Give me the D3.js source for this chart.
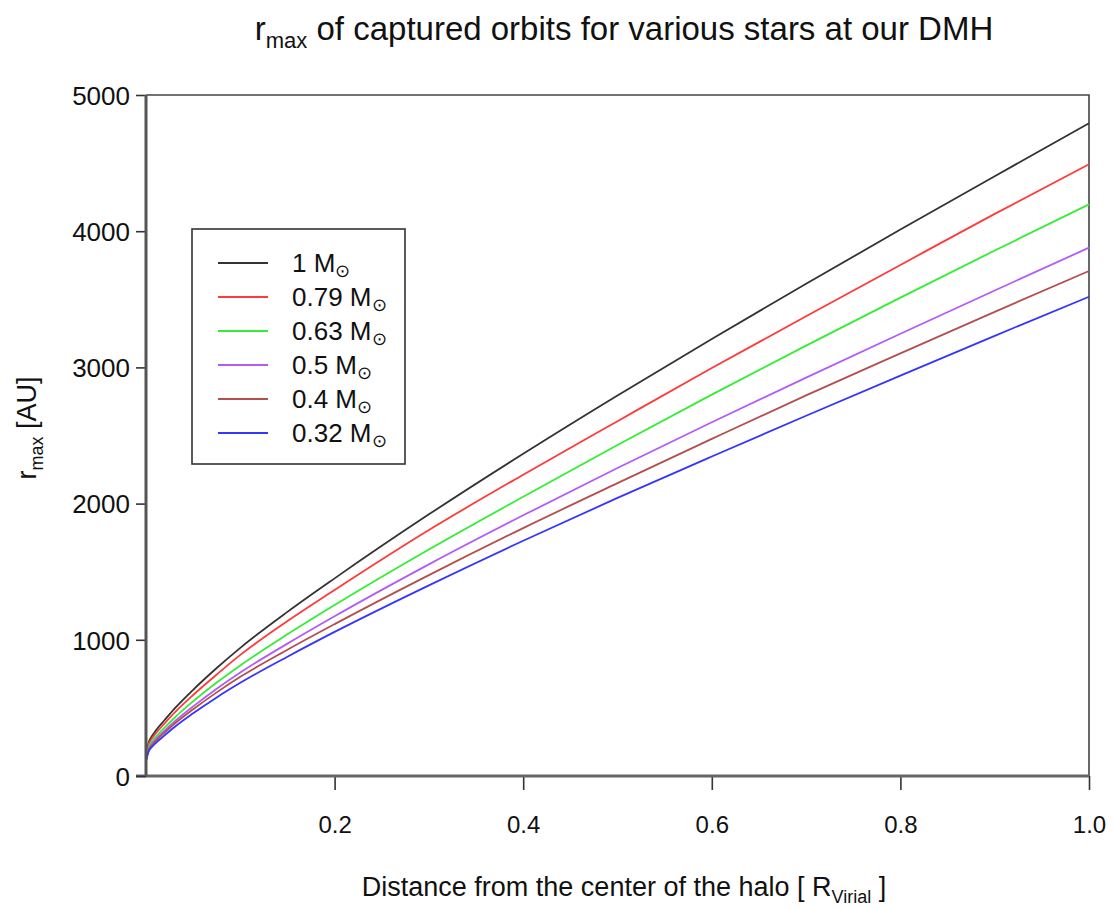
<!DOCTYPE html>
<html>
<head>
<meta charset="utf-8">
<script src="https://cdn.jsdelivr.net/npm/d3@7"></script>
<style>
  body { margin: 0; background: #fff; }
  svg text { font-family: "Liberation Sans", Arial, sans-serif; fill: #111; }
</style>
</head>
<body>
<div id="chart"></div>
<script>
// distance from halo centre, in R_virial
var xs = [0, 0.003, 0.006, 0.01, 0.02, 0.03, 0.05, 0.075, 0.1, 0.15, 0.2, 0.3, 0.4, 0.5, 0.6, 0.7, 0.8, 0.9, 1.0];

// r_max [AU] per star mass
var m100 = [150, 250, 290, 330, 413, 493, 633, 793, 941, 1205, 1451, 1921, 2366, 2794, 3209, 3614, 4012, 4404, 4792];
var m079 = [141, 235, 273, 310, 388, 463, 595, 745, 889, 1138, 1366, 1806, 2212, 2605, 2995, 3375, 3752, 4127, 4491];
var m063 = [130, 216, 251, 285, 357, 426, 548, 686, 812, 1040, 1255, 1663, 2050, 2430, 2800, 3160, 3512, 3858, 4197];
var m050 = [121, 202, 234, 267, 334, 398, 511, 641, 760, 972, 1173, 1554, 1914, 2261, 2597, 2925, 3247, 3565, 3879];
var m040 = [116, 194, 224, 255, 320, 382, 490, 614, 728, 927, 1115, 1475, 1820, 2150, 2475, 2795, 3103, 3408, 3708];
var m032 = [109, 182, 211, 240, 300, 358, 460, 577, 684, 876, 1058, 1400, 1727, 2042, 2346, 2645, 2940, 3232, 3519];

var labels = ["1", "0.79", "0.63", "0.5", "0.4", "0.32"];
var colors = ["#333333", "#ff3a3a", "#33ee33", "#b35cf5", "#b34f4f", "#3535ff"];
var series = [m100, m079, m063, m050, m040, m032];

var xTicks = [0.2, 0.4, 0.6, 0.8, 1.0];
var yTicks = [0, 1000, 2000, 3000, 4000, 5000];

var W = 1117, H = 909;
var margin = {top: 95, right: 28, bottom: 133, left: 146};
var width = W - margin.left - margin.right,
    height = H - margin.top - margin.bottom;

var svg = d3.select("#chart").append("svg")
    .attr("width", W)
    .attr("height", H);

var x = d3.scaleLinear().domain([0, 1]).range([0, width]);
var y = d3.scaleLinear().domain([0, 5000]).range([height, 0]);

var g = svg.append("g")
    .attr("transform", "translate(" + margin.left + "," + margin.top + ")");

// thin frame on top / right
g.append("path")
    .attr("d", "M0,0H" + width + "V" + height)
    .attr("fill", "none")
    .attr("stroke", "#444")
    .attr("stroke-width", 1.6);

var line = d3.line()
    .curve(d3.curveMonotoneX)
    .x(function(d, i) { return x(xs[i]); })
    .y(function(d) { return y(d); });

series.forEach(function(s, i) {
  g.append("path")
      .datum(s)
      .attr("fill", "none")
      .attr("stroke", colors[i])
      .attr("stroke-width", 1.8)
      .attr("d", line);
});

// axes
var xAxis = g.append("g")
    .attr("transform", "translate(0," + height + ")")
    .call(d3.axisBottom(x).tickValues(xTicks).tickFormat(d3.format(".1f")).tickSize(14).tickPadding(26));
xAxis.select(".domain").remove();
xAxis.append("line")
    .attr("x1", -10).attr("x2", width)
    .attr("stroke", "#666").attr("stroke-width", 3);
xAxis.selectAll(".tick line").attr("stroke", "#333").attr("stroke-width", 1.6);
xAxis.selectAll(".tick text")
    .attr("font-size", 24)
    .attr("fill", "#111");

var yAxis = g.append("g")
    .call(d3.axisLeft(y).tickValues(yTicks).tickFormat(d3.format("d")).tickSize(10).tickPadding(6));
yAxis.select(".domain").remove();
yAxis.append("line")
    .attr("y1", 0).attr("y2", height)
    .attr("stroke", "#555").attr("stroke-width", 3);
yAxis.selectAll(".tick line").attr("stroke", "#333").attr("stroke-width", 1.6);
yAxis.selectAll(".tick text")
    .attr("font-size", 26)
    .attr("fill", "#111")
    .attr("dy", "0.36em");

// titles
var title = svg.append("text")
    .attr("x", 624).attr("y", 40)
    .attr("text-anchor", "middle")
    .attr("font-size", 33);
title.append("tspan").text("r");
title.append("tspan").attr("font-size", 22).attr("dy", 8).text("max");
title.append("tspan").attr("dy", -8).text(" of captured orbits for various stars at our DMH");

var xt = svg.append("text")
    .attr("x", 624).attr("y", 896)
    .attr("text-anchor", "middle")
    .attr("font-size", 27);
xt.append("tspan").text("Distance from the center of the halo [ R");
xt.append("tspan").attr("font-size", 18).attr("dy", 7).text("Virial");
xt.append("tspan").attr("dy", -7).text(" ]");

var yt = svg.append("text")
    .attr("transform", "translate(36,428) rotate(-90)")
    .attr("text-anchor", "middle")
    .attr("font-size", 27);
yt.append("tspan").text("r");
yt.append("tspan").attr("font-size", 18).attr("dy", 7).text("max");
yt.append("tspan").attr("dy", -7).text(" [AU]");

// legend
var leg = svg.append("g").attr("transform", "translate(192,229)");
leg.append("rect")
    .attr("width", 213).attr("height", 235)
    .attr("fill", "#fff")
    .attr("stroke", "#333")
    .attr("stroke-width", 1.6);
labels.forEach(function(lab, i) {
  var yy = 34 + i * 34;
  leg.append("line")
      .attr("x1", 26).attr("x2", 76)
      .attr("y1", yy).attr("y2", yy)
      .attr("stroke", colors[i])
      .attr("stroke-width", 1.8);
  var t = leg.append("text")
      .attr("x", 100).attr("y", yy + 9)
      .attr("font-size", 26);
  t.append("tspan").text(lab + " M");
  t.append("tspan").attr("font-size", 18).attr("dy", 5).text("\u2299");
});
</script>
</body>
</html>
